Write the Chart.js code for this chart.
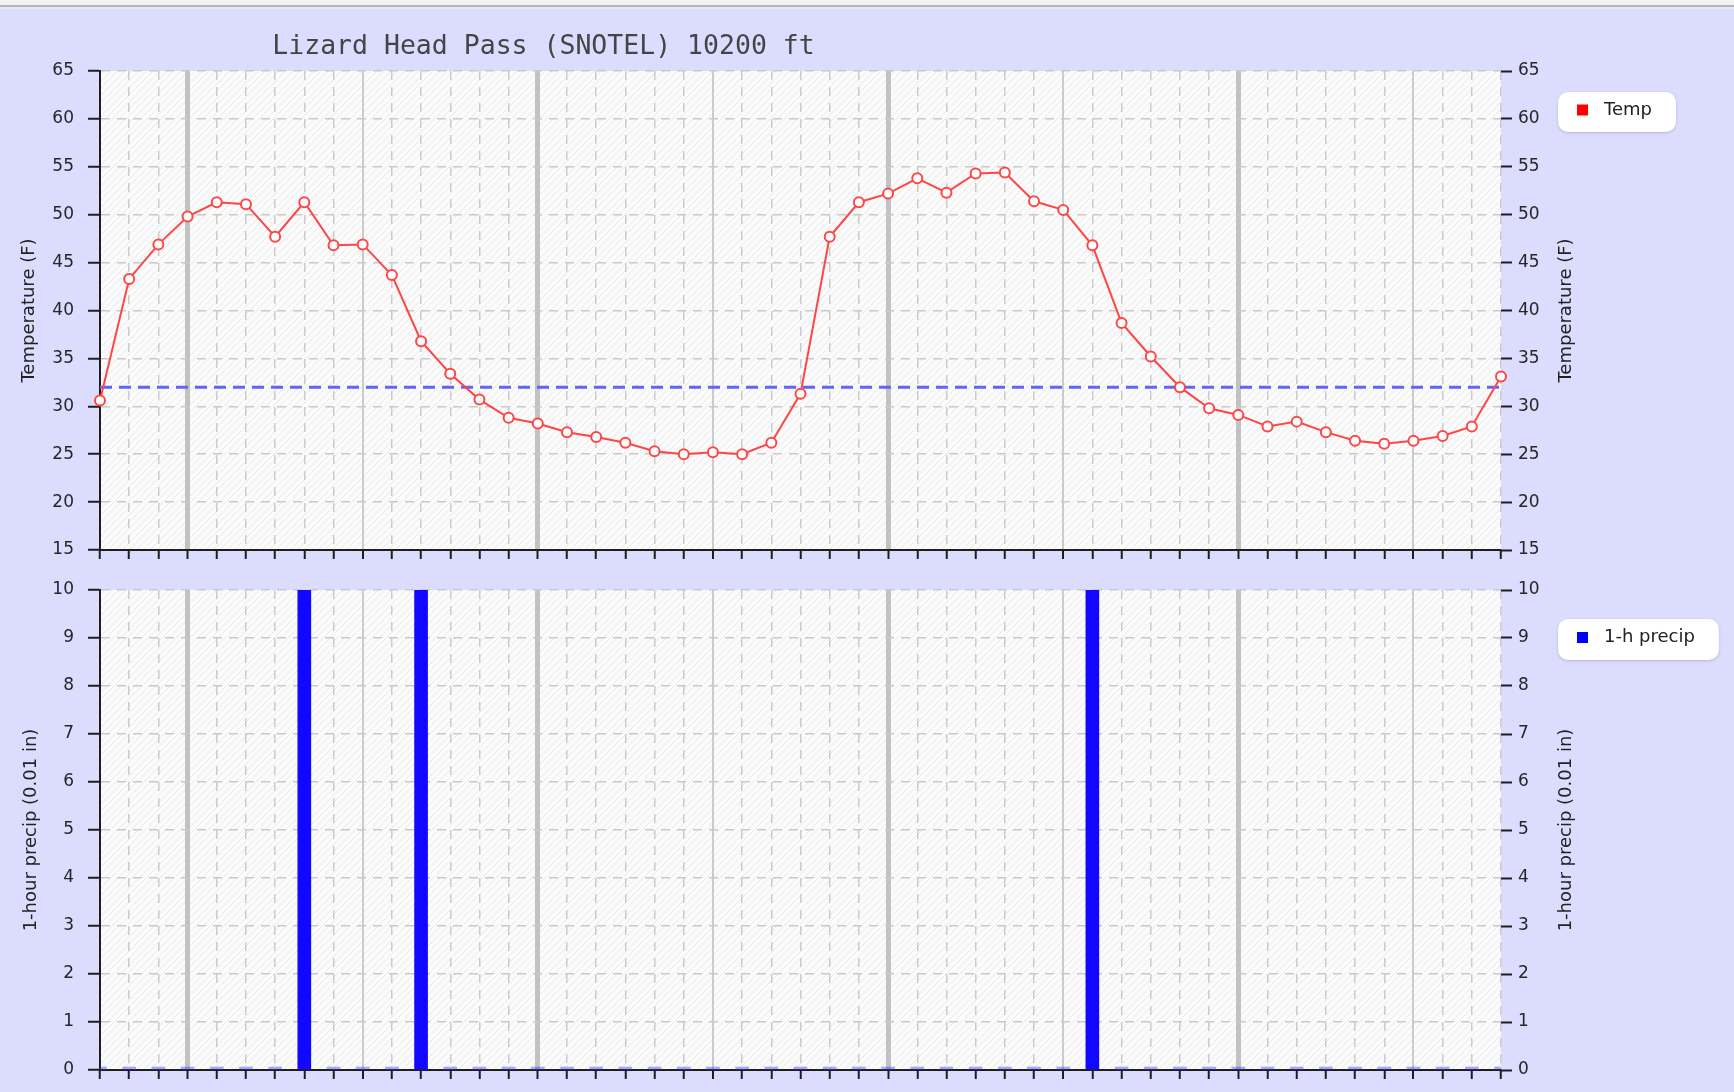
<!DOCTYPE html>
<html>
<head>
<meta charset="utf-8">
<script src="https://cdn.jsdelivr.net/npm/chart.js@4.4.1/dist/chart.umd.min.js"></script>
<style>
html,body{margin:0;padding:0;}
body{width:1734px;height:1092px;background:#dcdcfe;position:relative;overflow:hidden;}
#topbar{position:absolute;left:0;top:0;width:1734px;height:5px;background:#f2f2f2;}
#topline{position:absolute;left:0;top:5px;width:1734px;height:2px;background:#b4b4b4;}
#topline2{position:absolute;left:0;top:7px;width:1734px;height:2px;background:#e6e6f6;}
#cA{position:absolute;left:0;top:0;}
#cB{position:absolute;left:0;top:555px;}
</style>
</head>
<body>
<div id="topbar"></div><div id="topline"></div><div id="topline2"></div>
<canvas id="cA" width="1734" height="575"></canvas>
<canvas id="cB" width="1734" height="545"></canvas>
<script>
// ---------------- DATA ----------------
const TITLE = "Lizard Head Pass (SNOTEL) 10200 ft";
const hours = ["21","22","23",
  "00","01","02","03","04","05","06","07","08","09","10","11","12","13","14","15","16","17","18","19","20","21","22","23",
  "00","01","02","03","04","05","06","07","08","09","10","11","12","13","14","15","16","17","18","19","20","21"];
const tempF = [30.6,43.3,46.9,49.8,51.3,51.1,47.7,51.3,46.8,46.9,43.7,36.8,33.4,30.7,28.8,28.2,27.3,26.8,26.2,25.3,25.0,25.2,25.0,26.2,
  31.3,47.7,51.3,52.2,53.8,52.3,54.3,54.4,51.4,50.5,46.8,38.7,35.2,32.0,29.8,29.1,27.9,28.4,27.3,26.4,26.1,26.4,26.9,27.9,33.1];
const precip = [0,0,0,0,0,0,0,10,0,0,0,10,0,0,0,0,0,0,0,0,0,0,0,0,0,0,0,0,0,0,0,0,0,0,10,0,0,0,0,0,0,0,0,0,0,0,0,0,0];
const FREEZE_F = 32;
const tempAxis = {min: 15, max: 65, step: 5, title: "Temperature (F)"};
const precipAxis = {min: 0, max: 10, step: 1, title: "1-hour precip (0.01 in)"};
const tempLabel = "Temp";
const precipLabel = "1-h precip";

// ---------------- STYLE HELPERS ----------------
const FONT = "DejaVu Sans";
function vGridColor(ctx){
  if (ctx.type !== 'tick') return '#c8c8c8';
  const i = ctx.index;
  if (i === 0) return 'rgba(0,0,0,0)';
  if (i % 12 === 3) return '#c2c2c2';
  return '#cbcbcb';
}
function vGridWidth(ctx){
  if (ctx.type !== 'tick') return 1.5;
  const i = ctx.index;
  if (i % 12 === 3) return 5;
  if (i % 6 === 3) return 2;
  return 1.5;
}
function vGridDash(ctx){
  if (ctx.type !== 'tick') return [];
  const i = ctx.index;
  if (i % 6 === 3) return [];
  return [9,7];
}
function hGridDash(ctx){ return ctx.type === 'tick' ? [9,7] : []; }

let hatch = null;
function getHatch(ctx){
  if (hatch) return hatch;
  const c = document.createElement('canvas');
  c.width = 7; c.height = 7;
  const g = c.getContext('2d');
  g.fillStyle = '#fbfbfb'; g.fillRect(0,0,7,7);
  g.strokeStyle = '#e9e9e9'; g.lineWidth = 1;
  g.beginPath(); g.moveTo(-1,8); g.lineTo(8,-1); g.stroke();
  g.beginPath(); g.moveTo(-1,1); g.lineTo(1,-1); g.stroke();
  g.beginPath(); g.moveTo(6,8); g.lineTo(8,6); g.stroke();
  hatch = ctx.createPattern(c, 'repeat');
  return hatch;
}

const decorPlugin = {
  id: 'decor',
  beforeDraw(chart, args, opts){
    const {ctx, chartArea: a} = chart;
    ctx.save();
    ctx.fillStyle = getHatch(ctx);
    ctx.fillRect(a.left, a.top, a.right - a.left, a.bottom - a.top);
    ctx.restore();
  },
  beforeDatasetsDraw(chart, args, opts){
    if (opts.freeze === undefined) return;
    const {ctx, chartArea: a} = chart;
    const y = chart.scales.y.getPixelForValue(opts.freeze);
    ctx.save();
    ctx.strokeStyle = '#6363f8';
    ctx.lineWidth = 3;
    ctx.setLineDash([12,7]);
    ctx.beginPath(); ctx.moveTo(a.left, y); ctx.lineTo(a.right, y); ctx.stroke();
    ctx.restore();
  },
  afterDraw(chart, args, opts){
    const {ctx, chartArea: a} = chart;
    ctx.save();
    // title
    if (opts.title) {
      ctx.font = "26.5px 'DejaVu Sans Mono'";
      ctx.fillStyle = '#454545';
      ctx.textAlign = 'center';
      ctx.textBaseline = 'alphabetic';
      ctx.fillText(opts.title, opts.titleX, opts.titleY);
    }
    // axis titles (both read bottom-to-top)
    const cy = (a.top + a.bottom) / 2;
    ctx.font = "18px '" + FONT + "'";
    ctx.fillStyle = '#222';
    ctx.textAlign = 'center';
    ctx.textBaseline = 'middle';
    [opts.leftX, opts.rightX].forEach(x => {
      ctx.save();
      ctx.translate(x, cy);
      ctx.rotate(-Math.PI/2);
      ctx.fillText(opts.axisTitle, 0, 0);
      ctx.restore();
    });
    // legend box
    const L = opts.legend;
    const ds = chart.data.datasets[0];
    ctx.font = "18px '" + FONT + "'";
    const tw = ctx.measureText(ds.label).width;
    const w = 19 + 11 + 16 + tw + 24;
    ctx.save();
    ctx.shadowColor = 'rgba(0,0,0,0.18)';
    ctx.shadowBlur = 3;
    ctx.shadowOffsetY = 1;
    ctx.fillStyle = '#ffffff';
    ctx.beginPath();
    ctx.roundRect(L.x, L.y, w, L.h, 10);
    ctx.fill();
    ctx.restore();
    const my = L.y + L.h/2 - 2;
    ctx.fillStyle = L.color;
    ctx.fillRect(L.x + 19, my - 5.5, 11, 11);
    ctx.fillStyle = '#222';
    ctx.textAlign = 'left';
    ctx.textBaseline = 'middle';
    ctx.fillText(ds.label, L.x + 19 + 11 + 16, my);
    ctx.restore();
  }
};

function xScale(height){
  return {
    type: 'category', offset: false,
    ticks: {display: false, autoSkip: false},
    grid: {color: vGridColor, lineWidth: vGridWidth, offset: false, drawTicks: true,
           tickLength: 9, tickColor: '#1e1e1e', tickWidth: 2, tickBorderDash: []},
    border: {display: true, color: '#1e1e1e', width: 2, dash: vGridDash},
    afterFit(s){ s.height = height; }
  };
}
function yScales(ax){
  const tickFont = {family: FONT, size: 17};
  return {
    y: {
      type: 'linear', position: 'left', min: ax.min, max: ax.max,
      ticks: {stepSize: ax.step, padding: 14, color: '#262626', font: tickFont},
      grid: {color: '#c9c9c9', lineWidth: 1.5, tickLength: 12, tickColor: '#1e1e1e', tickWidth: 2, tickBorderDash: []},
      border: {display: true, color: '#1e1e1e', width: 2, dash: hGridDash},
      afterFit(s){ s.width = 100; }
    },
    y2: {
      type: 'linear', position: 'right', min: ax.min, max: ax.max,
      ticks: {stepSize: ax.step, padding: 6, color: '#262626', font: tickFont},
      grid: {drawOnChartArea: false, tickLength: 11, tickColor: '#1e1e1e', tickWidth: 2, tickBorderDash: []},
      border: {display: false},
      afterFit(s){ s.width = 233; }
    }
  };
}

const common = {
  responsive: false, animation: false, devicePixelRatio: 1, events: [],
};

new Chart(document.getElementById('cA'), {
  type: 'line',
  data: {
    labels: hours,
    datasets: [{
      label: tempLabel, data: tempF, yAxisID: 'y',
      borderColor: '#ff4646', borderWidth: 2, tension: 0,
      pointRadius: 5, pointBorderWidth: 2, pointBorderColor: '#ff4646', pointBackgroundColor: '#ffffff'
    }]
  },
  options: Object.assign({}, common, {
    layout: {padding: {top: 71, left: 0, right: 0, bottom: 0}},
    scales: Object.assign({x: xScale(25)}, yScales(tempAxis)),
    plugins: {
      legend: {display: false}, tooltip: {enabled: false}, title: {display: false},
      decor: {title: TITLE, titleX: 543.5, titleY: 54, freeze: FREEZE_F,
              axisTitle: tempAxis.title, leftX: 29, rightX: 1566,
              legend: {x: 1558, y: 92, h: 40, color: '#ff0000'}}
    }
  }),
  plugins: [decorPlugin]
});

new Chart(document.getElementById('cB'), {
  type: 'bar',
  data: {
    labels: hours,
    datasets: [{
      label: precipLabel, data: precip, yAxisID: 'y',
      backgroundColor: (c) => (c.raw > 0 ? '#1208ff' : 'rgba(70,70,255,0.45)'),
      borderWidth: 0, barThickness: 13, minBarLength: 3
    }]
  },
  options: Object.assign({}, common, {
    layout: {padding: {top: 35, left: 0, right: 0, bottom: 0}},
    scales: Object.assign({x: xScale(30)}, yScales(precipAxis)),
    plugins: {
      legend: {display: false}, tooltip: {enabled: false}, title: {display: false},
      decor: {axisTitle: precipAxis.title, leftX: 31, rightX: 1566,
              legend: {x: 1558, y: 64, h: 41, color: '#0000ff'}}
    }
  }),
  plugins: [decorPlugin]
});
</script>
</body>
</html>
